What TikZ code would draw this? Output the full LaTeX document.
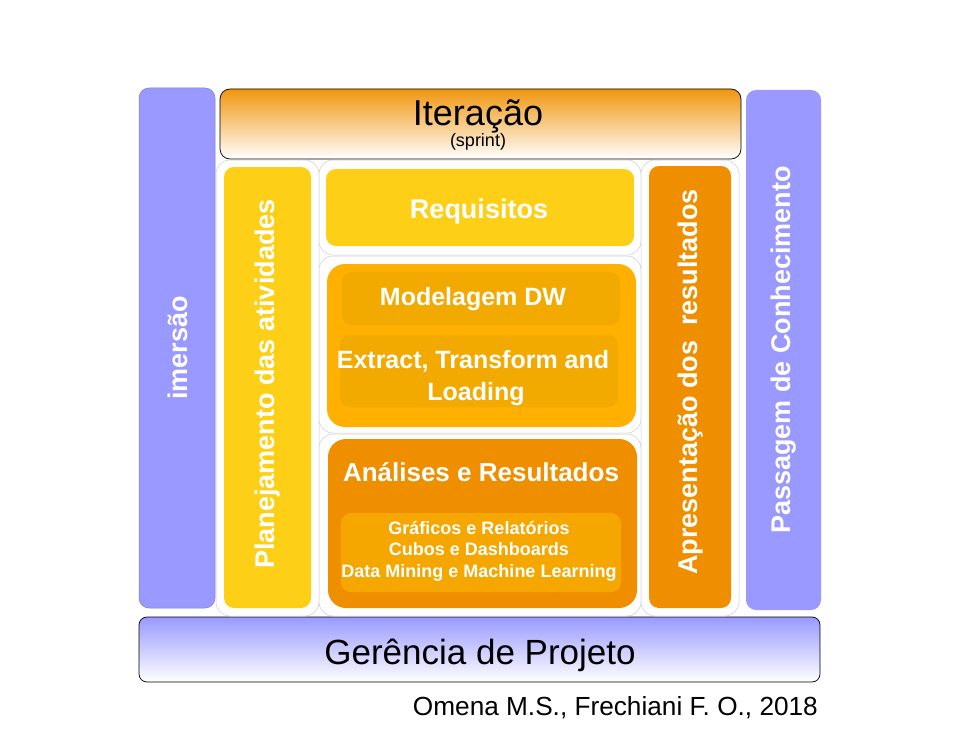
\documentclass[tikz,border=0pt]{standalone}
\usepackage{fontspec}
\setmainfont{Liberation Sans}
\definecolor{lav}{HTML}{9999FF}
\definecolor{lavline}{HTML}{7F7FCC}
\definecolor{yel}{HTML}{FDD017}
\definecolor{orm}{HTML}{FFB000}
\definecolor{ord}{HTML}{EF8F00}
\definecolor{ormi}{HTML}{F3AA00}
\definecolor{ordi}{HTML}{F5A700}
\definecolor{itop}{HTML}{F0960F}
\tikzset{
  plate/.style={draw=black!20, line width=0.5pt, fill=white, rounded corners=14pt},
  panel/.style={rounded corners=#1},
  panel/.default=10pt,
  wtxt/.style={text=white, font=\bfseries\fontsize{#1}{#1}\selectfont, inner sep=0pt},
  wtxt/.default=27,
  btxt/.style={text=black, font=\fontsize{#1}{#1}\selectfont, inner sep=0pt},
}
\begin{document}
\begin{tikzpicture}[x=1pt,y=-1pt]
\useasboundingbox (0,0) rectangle (959,752);
% side lavender columns
\path[panel, fill=lav, draw=lavline, line width=0.5pt] (139,88) rectangle (215,608);
\path[panel, fill=lav] (746,90) rectangle (821,610);
% iteration header
\shade[panel, top color=itop, bottom color=white] (220,89) rectangle (741,159);
\draw[panel, black, line width=0.7pt] (220,89) rectangle (741,159);
% management footer
\shade[panel=8pt, top color=lav, bottom color=white] (139,617) rectangle (820,682);
\draw[panel=8pt, black, line width=0.7pt] (139,617) rectangle (820,682);
% white plates
\path[plate] (216,160) rectangle (319,616);
\path[plate] (319,160) rectangle (641,255);
\path[plate] (319,256) rectangle (641,433);
\path[plate] (319,434) rectangle (641,616);
\path[plate] (641,160) rectangle (739,616);
% coloured panels
\path[panel, fill=yel] (224,167) rectangle (311,608);
\path[panel, fill=yel] (326,169) rectangle (634,246);
\path[panel=18pt, fill=orm] (327,264) rectangle (636,427);
\path[panel, fill=ormi] (342,272) rectangle (620,325);
\path[panel, fill=ormi] (340,335) rectangle (618,407);
\path[panel=18pt, fill=ord] (328,439) rectangle (637,608);
\path[panel, fill=ordi] (341,513) rectangle (621,592);
\path[panel, fill=ord] (649,166) rectangle (731,608);
% texts
\node[btxt=36, anchor=base] (it) at (478,125) {Iteração};
\node[btxt=18, anchor=base] (sp) at (478,146) {(sprint)};
\node[btxt=35, anchor=base] (ger) at (480,664) {Gerência de Projeto};
\node[btxt=26.2, anchor=base east] (cred) at (818,715) {Omena M.S., Frechiani F. O., 2018};
\node[wtxt, rotate=90] (im) at (178,348) {imersão};
\node[wtxt, rotate=90] (plan) at (268,384) {Planejamento das atividades};
\node[wtxt, rotate=90] (apr) at (691,382) {Apresentação dos\ \ resultados};
\node[wtxt, rotate=90] (pas) at (784,350) {Passagem de Conhecimento};
\node[wtxt, anchor=base] (req) at (479,218) {Requisitos};
\node[wtxt=25, anchor=base] (mod) at (473,305) {Modelagem DW};
\node[wtxt=25, anchor=base] (etl1) at (473,368) {Extract, Transform and};
\node[wtxt=25, anchor=base] (etl2) at (476,400) {Loading};
\node[wtxt=26, anchor=base] (an) at (481,481) {Análises e Resultados};
\node[wtxt=18, anchor=base] (l1) at (479,534) {Gráficos e Relatórios};
\node[wtxt=18, anchor=base] (l2) at (479,555) {Cubos e Dashboards};
\node[wtxt=18, anchor=base] (l3) at (479,577) {Data Mining e Machine Learning};
\end{tikzpicture}
\end{document}
